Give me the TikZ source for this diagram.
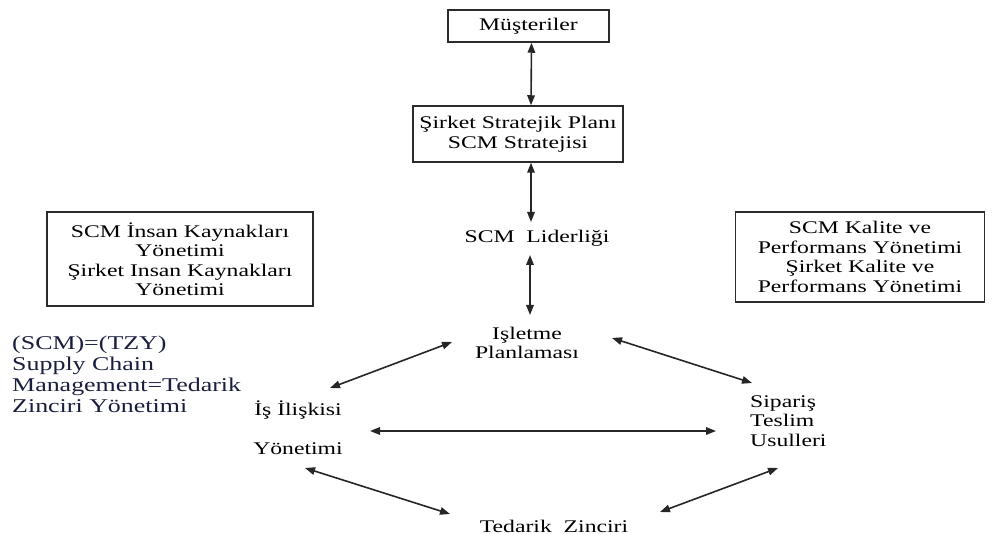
\documentclass[tikz,border=0pt]{standalone}
\usepackage{fontspec}
\setmainfont{Liberation Serif}[FakeStretch=1.33]
\usetikzlibrary{arrows.meta,calc}
\definecolor{BoxLine}{HTML}{2B2B2B}
\definecolor{NoteBlue}{HTML}{1A1E3E}

\begin{document}
\begin{tikzpicture}[x=1pt, y=-1pt,
  box/.style={draw=BoxLine, line width=1.5pt, inner sep=0pt, align=center, font=\fontsize{17.8}{19.5}\selectfont},
  lbl/.style={inner sep=2pt, align=center, font=\fontsize{17.8}{19.5}\selectfont},
  arr/.style={{Triangle[length=10pt,width=7.5pt]}-{Triangle[length=10pt,width=7.5pt]}, line width=1.6pt, black!85}
]
\useasboundingbox (0,0) rectangle (995,534);
% boxes
\node[box, minimum width=161pt, minimum height=32pt] (mus) at (528.5,26) {Müşteriler};
\node[box, minimum width=210pt, minimum height=56pt] (sir) at (518,134) {Şirket Stratejik Planı\\SCM Stratejisi};
\node[box, minimum width=266pt, minimum height=94pt] (ik) at (180,259) {SCM İnsan Kaynakları\\Yönetimi\\Şirket Insan Kaynakları\\Yönetimi};
\node[box, minimum width=249pt, minimum height=90pt] (kal) at (860,257) {SCM Kalite ve\\Performans Yönetimi\\Şirket Kalite ve\\Performans Yönetimi};
% plain labels
\node[lbl] (lid) at (537,238) {SCM\ \ Liderliği};
\node[lbl] (isl) at (527,343) {Işletme\\Planlaması};
\node[lbl] (is) at (298,428) {İş İlişkisi\\[19.5pt]Yönetimi};
\node[lbl, align=left, anchor=west] (sip) at (748,421) {Sipariş\\Teslim\\Usulleri};
\node[lbl] (ted) at (554,526) {Tedarik\ \ Zinciri};
\node[lbl, align=left, anchor=west, text=NoteBlue, font=\fontsize{19.5}{21}\selectfont] (tzy) at (10,374) {(SCM)=(TZY)\\Supply Chain\\Management=Tedarik\\Zinciri Yönetimi};
% connectors
\draw[arr] ($(mus.south)+(3,0)$) -- ($(sir.north)+(13,0)$);
\draw[arr] ($(sir.south)+(13,0)$) -- ($(lid.center)+(-6,-16)$);
\draw[arr] ($(lid.center)+(-7,17)$) -- ($(isl.center)+(3,-28)$);
\draw[arr] ($(isl.center)+(-75,-1)$) -- ($(is.center)+(32,-40)$);
\draw[arr] ($(isl.center)+(85,-5)$) -- ($(sip.west)+(4,-38)$);
\draw[arr] ($(is.center)+(72,3)$) -- ($(sip.west)+(-32,10)$);
\draw[arr] ($(is.center)+(7,40)$) -- ($(ted.center)+(-104,-12)$);
\draw[arr] ($(sip.west)+(30,47)$) -- ($(ted.center)+(106,-14)$);
\end{tikzpicture}
\end{document}
